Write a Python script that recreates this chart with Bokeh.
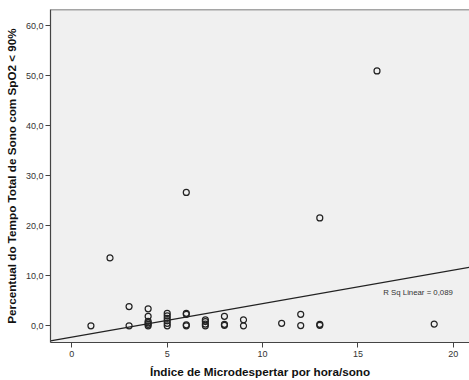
from bokeh.plotting import figure
from bokeh.models import Range1d, FixedTicker, Span, Label
from bokeh.embed import file_html
from bokeh.resources import INLINE

# ---- data ----
micro_x = [1, 2, 3, 3,
           4, 4, 4, 4, 4, 4,
           5, 5, 5, 5, 5, 5,
           6, 6, 6, 6, 6,
           7, 7, 7, 7,
           8, 8, 8,
           9, 9,
           11,
           12, 12,
           13, 13, 13,
           16,
           19]
spo2_y = [0.0, 13.6, 3.85, 0.0,
          3.4, 1.9, 0.9, 0.6, 0.3, 0.0,
          2.5, 2.0, 1.5, 1.0, 0.5, 0.0,
          26.7, 2.5, 2.3, 0.2, 0.0,
          1.2, 0.85, 0.35, 0.0,
          1.9, 0.3, 0.1,
          1.2, 0.0,
          0.5,
          2.3, 0.05,
          21.6, 0.3, 0.1,
          51.0,
          0.35]

fit_intercept = -2.25
fit_slope = 0.67
r_sq_text = "R Sq Linear = 0,089"

x_ticks = [0, 5, 10, 15, 20]
x_tick_labels = ["0", "5", "10", "15", "20"]
y_ticks = [0, 10, 20, 30, 40, 50, 60]
y_tick_labels = ["0,0", "10,0", "20,0", "30,0", "40,0", "50,0", "60,0"]

x_title = "Índice de Microdespertar por hora/sono"
y_title = "Percentual do Tempo Total de Sono com SpO2 < 90%"

X0, X1 = -1.12, 20.85
Y0, Y1 = -3.33, 63.3

FONT = "Liberation Sans"

p = figure(width=469, height=380, x_range=Range1d(X0, X1), y_range=Range1d(Y0, Y1),
           output_backend="svg", toolbar_location=None,
           min_border_left=50, min_border_right=0, min_border_top=9, min_border_bottom=37)

p.background_fill_color = "#F0F0F0"
p.border_fill_color = "white"
p.outline_line_color = None
p.xgrid.visible = False
p.ygrid.visible = False

for ax in (p.xaxis[0], p.yaxis[0]):
    ax.axis_line_color = "#444444"
    ax.axis_line_width = 1.2
    ax.major_tick_line_color = "#444444"
    ax.major_tick_out = 5
    ax.major_tick_in = 0
    ax.minor_tick_line_color = None
    ax.major_label_text_font = FONT
    ax.major_label_text_font_size = "9px"
    ax.major_label_text_color = "#333333"
    ax.axis_label_text_font = FONT
    ax.axis_label_text_font_size = "11.7px"
    ax.axis_label_text_font_style = "bold"
    ax.axis_label_text_color = "#111111"

p.xaxis.ticker = FixedTicker(ticks=x_ticks)
p.yaxis.ticker = FixedTicker(ticks=y_ticks)
p.xaxis.major_label_overrides = {t: l for t, l in zip(x_ticks, x_tick_labels)}
p.yaxis.major_label_overrides = {t: l for t, l in zip(y_ticks, y_tick_labels)}
p.xaxis.major_label_standoff = 3
p.yaxis.major_label_standoff = 2
p.xaxis.axis_label = x_title
p.yaxis.axis_label = y_title
p.xaxis.axis_label_standoff = 5
p.yaxis.axis_label_standoff = 5

# top border line
p.add_layout(Span(location=Y1, dimension="width", line_color="#555555", line_width=1.5))

# regression line
line_x = [X0, X1]
line_y = [fit_intercept + fit_slope * v for v in line_x]
p.line(line_x, line_y, line_color="#222222", line_width=1.2)

# scatter points
p.scatter(micro_x, spo2_y, marker="circle", size=6, fill_color=None,
          line_color="#222222", line_width=1.2)

p.add_layout(Label(x=16.33, y=6.6, text=r_sq_text, text_font=FONT,
                   text_font_size="7.8px", text_color="#333333",
                   text_baseline="middle", text_align="left"))

open("out.html", "w").write(file_html(p, INLINE))
